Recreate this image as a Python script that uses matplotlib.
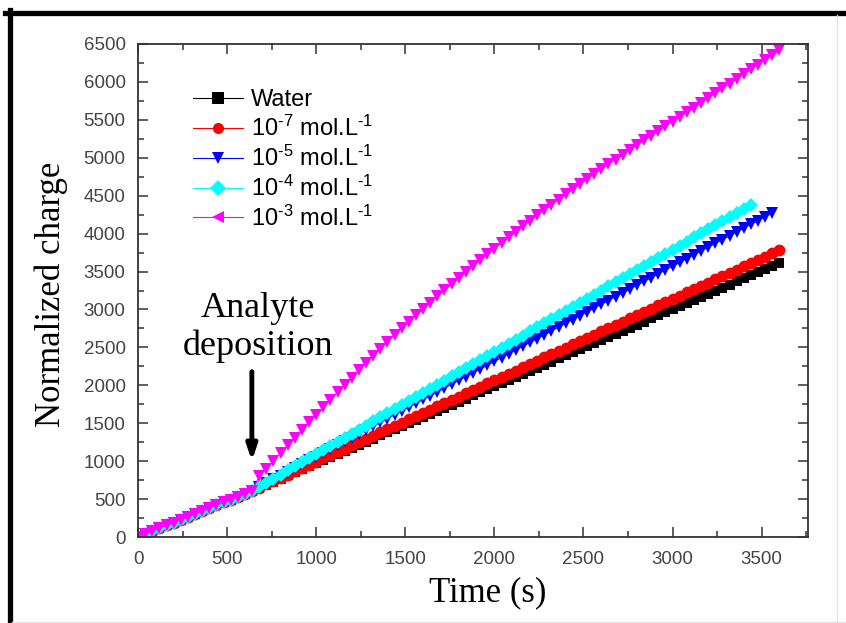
import numpy as np
import matplotlib
matplotlib.use("Agg")
import matplotlib.pyplot as plt
import matplotlib.ticker as ticker
from matplotlib.lines import Line2D

plt.rcParams["font.family"] = ["Liberation Sans", "DejaVu Sans"]
plt.rcParams["mathtext.fontset"] = "custom"
plt.rcParams["mathtext.rm"] = "Liberation Sans"
plt.rcParams["mathtext.it"] = "Liberation Sans"

# Sampling time of the measurement (one point every 40 s)
time_s = np.arange(0, 3601, 40)

# Common part before the analyte deposition (t = 0 .. 640 s)
pre_deposition = [0, 38, 76, 114, 152, 190, 228, 266, 304, 342, 380, 418, 456, 494, 532, 570, 608]

# After deposition (t = 680 s onwards)
water_post = [649, 689, 730, 770, 811, 852, 892, 933, 973, 1014, 1055, 1095, 1136, 1176, 1217, 1258,
              1298, 1339, 1379, 1420, 1461, 1501, 1542, 1582, 1623, 1664, 1704, 1745, 1785, 1826,
              1867, 1907, 1948, 1988, 2029, 2070, 2110, 2151, 2191, 2232, 2273, 2313, 2354, 2394,
              2435, 2476, 2516, 2557, 2597, 2638, 2679, 2719, 2760, 2800, 2841, 2882, 2922, 2963,
              3003, 3044, 3085, 3125, 3166, 3206, 3247, 3288, 3328, 3369, 3409, 3450, 3491, 3531,
              3572, 3612]
c7_post = [651, 694, 737, 780, 823, 865, 908, 951, 994, 1037, 1080, 1123, 1166, 1209, 1252, 1294,
           1337, 1380, 1423, 1466, 1509, 1552, 1595, 1638, 1681, 1723, 1766, 1809, 1852, 1895,
           1938, 1981, 2024, 2067, 2110, 2152, 2195, 2238, 2281, 2324, 2367, 2410, 2453, 2496,
           2539, 2581, 2624, 2667, 2710, 2753, 2796, 2839, 2882, 2925, 2968, 3010, 3053, 3096,
           3139, 3182, 3225, 3268, 3311, 3354, 3397, 3439, 3482, 3525, 3568, 3611, 3654, 3697,
           3740, 3783]
c5_post = [658, 708, 759, 809, 859, 909, 959, 1010, 1060, 1110, 1160, 1210, 1261, 1311, 1361, 1411,
           1461, 1512, 1562, 1612, 1662, 1712, 1763, 1813, 1863, 1913, 1963, 2014, 2064, 2114,
           2164, 2214, 2265, 2315, 2365, 2415, 2465, 2516, 2566, 2616, 2666, 2716, 2767, 2817,
           2867, 2917, 2967, 3018, 3068, 3118, 3168, 3218, 3269, 3319, 3369, 3419, 3469, 3520,
           3570, 3620, 3670, 3720, 3771, 3821, 3871, 3921, 3971, 4022, 4072, 4122, 4172, 4222,
           4273]
c4_post = [662, 716, 770, 824, 878, 931, 985, 1039, 1093, 1147, 1201, 1255, 1309, 1363, 1417, 1470,
           1524, 1578, 1632, 1686, 1740, 1794, 1848, 1902, 1956, 2009, 2063, 2117, 2171, 2225,
           2279, 2333, 2387, 2441, 2495, 2548, 2602, 2656, 2710, 2764, 2818, 2872, 2926, 2980,
           3034, 3087, 3141, 3195, 3249, 3303, 3357, 3411, 3465, 3519, 3573, 3626, 3680, 3734,
           3788, 3842, 3896, 3950, 4004, 4058, 4112, 4165, 4219, 4273, 4327, 4381]
c3_post = [800, 903, 1006, 1108, 1210, 1311, 1412, 1512, 1612, 1711, 1810, 1908, 2005, 2102, 2198,
           2293, 2388, 2482, 2575, 2663, 2750, 2836, 2921, 3005, 3089, 3172, 3254, 3335, 3415,
           3494, 3572, 3650, 3727, 3803, 3878, 3952, 4025, 4098, 4170, 4241, 4311, 4380, 4449,
           4517, 4584, 4651, 4717, 4783, 4848, 4913, 4977, 5041, 5104, 5167, 5229, 5291, 5353,
           5414, 5475, 5536, 5599, 5662, 5725, 5788, 5851, 5914, 5977, 6040, 6103, 6166, 6229,
           6292, 6355, 6418]

labels = ["Water", r"10$^{\text{-7}}$ mol.L$^{\text{-1}}$", r"10$^{\text{-5}}$ mol.L$^{\text{-1}}$",
          r"10$^{\text{-4}}$ mol.L$^{\text{-1}}$", r"10$^{\text{-3}}$ mol.L$^{\text{-1}}$"]
series = [water_post, c7_post, c5_post, c4_post, c3_post]
colors = ["#000000", "#ff0000", "#0000ff", "#00ffff", "#ff00ff"]
plot_markers = ["s", "o", "v", "D", "v"]
legend_markers = ["s", "o", "v", "D", "<"]
marker_sizes = [7.5, 8.5, 9, 7.5, 9]

fig = plt.figure(figsize=(8.46, 6.23), dpi=100)
ax = fig.add_axes([138 / 846, 86 / 623, 670 / 846, 493 / 623])

for post, color, marker, ms in zip(series, colors, plot_markers, marker_sizes):
    values = pre_deposition + post
    t = time_s[:len(values)]
    ax.plot(t, values, color=color, marker=marker, markersize=ms, linewidth=0.8,
            markeredgewidth=0)

ax.set_xlim(0, 3760)
ax.set_ylim(0, 6500)
ax.xaxis.set_major_locator(ticker.MultipleLocator(500))
ax.xaxis.set_minor_locator(ticker.MultipleLocator(250))
ax.yaxis.set_major_locator(ticker.MultipleLocator(500))
ax.yaxis.set_minor_locator(ticker.MultipleLocator(250))
ax.tick_params(which="both", direction="in", top=True, right=True, color="#333333",
               width=1.1)
ax.tick_params(which="major", length=7, labelsize=13.5, labelcolor="#444444")
ax.tick_params(axis="x", which="major", pad=10)
ax.tick_params(axis="y", which="major", pad=9)
ax.tick_params(which="minor", length=4)
for spine in ax.spines.values():
    spine.set_linewidth(1.3)
    spine.set_color("#333333")

serif = ["Liberation Serif", "DejaVu Serif"]
ax.set_xlabel("Time (s)", fontsize=25, family=serif)
ax.set_ylabel("Normalized charge", fontsize=25, family=serif)
ax.xaxis.set_label_coords((488 - 138) / 670, -(576 - 537) / 493)
ax.yaxis.set_label_coords(-(138 - 68) / 670, (537 - 294) / 493)

# Legend with proxy handles (marker shapes as in the original legend)
handles = [Line2D([], [], color=c, marker=m, markersize=8, linewidth=0.8, markeredgewidth=0)
           for c, m in zip(colors, legend_markers)]
ax.legend(handles, labels, loc="upper left", bbox_to_anchor=(193 / 846, 1 - 89 / 623),
          bbox_transform=fig.transFigure, frameon=False, fontsize=17, borderpad=0,
          borderaxespad=0, handlelength=2.1, handletextpad=0.35, labelspacing=0.2)

# Deposition arrow and note
ax.annotate("", xy=(639, 1000), xytext=(639, 2180),
            arrowprops=dict(arrowstyle="-|>,head_length=0.9,head_width=0.3", color="black",
                            linewidth=3.5, shrinkA=0, shrinkB=0))
ax.text(672, 2760, "Analyte\ndeposition", fontsize=26, family=serif, ha="center", va="center",
        linespacing=1.2)

# Page frame: heavy black top/left, faint grey right/bottom
fig.add_artist(Line2D([5 / 846, 1], [1 - 12.5 / 623] * 2, color="black", linewidth=3.8,
                      transform=fig.transFigure))
fig.add_artist(Line2D([9.5 / 846] * 2, [0, 1 - 10 / 623], color="black", linewidth=3.8,
                      transform=fig.transFigure))
fig.add_artist(Line2D([837 / 846] * 2, [0, 1 - 15 / 623], color="#e4e4e4", linewidth=1,
                      transform=fig.transFigure))
fig.add_artist(Line2D([12 / 846, 1], [1.5 / 623] * 2, color="#e4e4e4", linewidth=1,
                      transform=fig.transFigure))

fig.savefig("out.png", dpi=100)
